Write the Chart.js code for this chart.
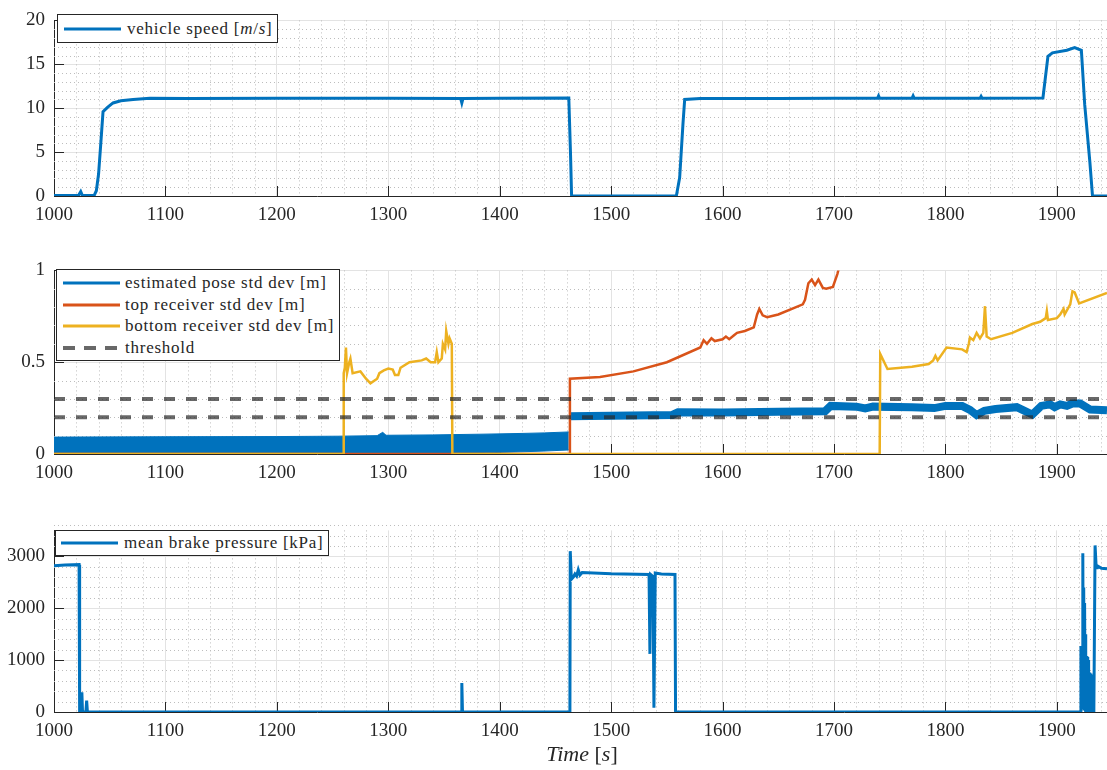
<!DOCTYPE html>
<html>
<head>
<meta charset="utf-8">
<script src="https://cdn.jsdelivr.net/npm/chart.js@4.4.0/dist/chart.umd.min.js"></script>
<style>
  body { margin: 0; background: #fff; width: 1107px; height: 770px; position: relative; overflow: hidden;
         font-family: 'Liberation Serif', serif; color: #262626; }
  canvas { position: absolute; left: 0; }
  .legend { position: absolute; background: #fff; border: 1px solid #262626; box-sizing: border-box;
            font-size: 17px; letter-spacing: 0.75px; }
  .legend .row { position: absolute; left: 0; height: 22px; width: 100%; }
  .legend svg { position: absolute; top: 0; }
  .legend span { position: absolute; top: 0; line-height: 22px; white-space: nowrap; }
  #xlabel { position: absolute; left: 482px; width: 200px; top: 743px; text-align: center;
            font-size: 22px; line-height: 22px; }
</style>
</head>
<body>
<canvas id="speedChart" width="1107" height="240" style="top:0px"></canvas>
<canvas id="stdChart" width="1107" height="240" style="top:250px"></canvas>
<canvas id="brakeChart" width="1107" height="240" style="top:510px"></canvas>

<div class="legend" style="left:57px; top:14px; width:221px; height:29px;">
  <div class="row" style="top:3px">
    <svg width="57" height="22" style="left:6px"><line x1="0" y1="11" x2="57" y2="11" stroke="#0072BD" stroke-width="3"/></svg>
    <span style="left:69px">vehicle speed [<i>m</i>/<i>s</i>]</span>
  </div>
</div>

<div class="legend" style="left:56px; top:269px; width:284px; height:92px;">
  <div class="row" style="top:2px">
    <svg width="57" height="22" style="left:6px"><line x1="0" y1="11" x2="57" y2="11" stroke="#0072BD" stroke-width="3"/></svg>
    <span style="left:68px">estimated pose std dev [m]</span>
  </div>
  <div class="row" style="top:23.5px">
    <svg width="57" height="22" style="left:6px"><line x1="0" y1="11" x2="57" y2="11" stroke="#D95319" stroke-width="3"/></svg>
    <span style="left:68px">top receiver std dev [m]</span>
  </div>
  <div class="row" style="top:45px">
    <svg width="57" height="22" style="left:6px"><line x1="0" y1="11" x2="57" y2="11" stroke="#EDB120" stroke-width="3"/></svg>
    <span style="left:68px">bottom receiver std dev [m]</span>
  </div>
  <div class="row" style="top:66.5px">
    <svg width="57" height="22" style="left:6px"><line x1="0" y1="11" x2="57" y2="11" stroke="rgba(40,40,40,0.7)" stroke-width="4" stroke-dasharray="12 9"/></svg>
    <span style="left:68px">threshold</span>
  </div>
</div>

<div class="legend" style="left:55px; top:530px; width:274px; height:26px;">
  <div class="row" style="top:1px">
    <svg width="57" height="22" style="left:5px"><line x1="0" y1="11" x2="57" y2="11" stroke="#0072BD" stroke-width="3"/></svg>
    <span style="left:68px">mean brake pressure [kPa]</span>
  </div>
</div>

<div id="xlabel"><i>Time</i> [<i>s</i>]</div>

<script>
// time window shared by all three panels
const tStart = 1000;
const tEnd = 1945;
const timeTicks = [1000, 1100, 1200, 1300, 1400, 1500, 1600, 1700, 1800, 1900];
const speedTicks = [0, 5, 10, 15, 20];
const stdTicks = [0, 0.5, 1];
const brakeTicks = [0, 1000, 2000, 3000];

// vehicle speed [m/s] as [time, value]
const speed = [
  [1000, 0.05], [1022, 0.05], [1024, 0.5], [1025.5, 0.05], [1036, 0.05], [1038, 0.6],
  [1040, 2.5], [1042, 6], [1044, 9.6], [1048, 10.1], [1053, 10.6], [1060, 10.85],
  [1071, 11.0], [1086, 11.12], [1120, 11.1], [1200, 11.12], [1300, 11.12], [1365, 11.1],
  [1366, 10.6], [1367, 11.1], [1400, 11.12], [1462, 11.15], [1463.5, 5], [1464.5, 0],
  [1558.5, 0], [1561.5, 2.1], [1564.5, 8.3], [1566, 11.0], [1580, 11.1], [1650, 11.1],
  [1700, 11.12], [1739, 11.12], [1740, 11.4], [1741, 11.12], [1770, 11.12], [1771, 11.4],
  [1772, 11.12], [1831, 11.12], [1832, 11.35], [1833, 11.12], [1887.5, 11.16], [1892, 15.9],
  [1896, 16.3], [1909, 16.6], [1916, 16.9], [1922, 16.6], [1925, 10.4], [1926, 9.0],
  [1929.6, 3.9], [1932, 0], [1945, 0]
];

// estimated pose std dev [m]: noisy band [time, low, high] before the jump, then a line
const poseBand = [
  [1000, 0.006, 0.092], [1100, 0.006, 0.094], [1200, 0.006, 0.095], [1255, 0.006, 0.097],
  [1290, 0.006, 0.1], [1295, 0.006, 0.118], [1298, 0.006, 0.102], [1340, 0.006, 0.104],
  [1385, 0.006, 0.108], [1420, 0.012, 0.112], [1440, 0.016, 0.115], [1462, 0.022, 0.12]
];
const pose = [
  [1462.5, 0.205], [1500, 0.208], [1555, 0.213], [1560, 0.228], [1600, 0.226], [1650, 0.23],
  [1692, 0.233], [1697, 0.262], [1720, 0.258], [1728, 0.248], [1735, 0.258], [1770, 0.254],
  [1790, 0.25], [1800, 0.262], [1815, 0.262], [1822, 0.24], [1828, 0.212], [1835, 0.235],
  [1845, 0.245], [1864, 0.255], [1872, 0.232], [1878, 0.215], [1886, 0.262], [1894, 0.27],
  [1898, 0.255], [1903, 0.27], [1909, 0.262], [1914, 0.275], [1921, 0.275], [1930, 0.242],
  [1945, 0.238]
];

// top receiver std dev [m]
const topRx = [
  [1000, 0], [1462.5, 0], [1463, 0.41], [1490, 0.42], [1520, 0.45], [1550, 0.5], [1580, 0.58],
  [1583, 0.62], [1586, 0.6], [1590, 0.63], [1593, 0.615], [1600, 0.625], [1603, 0.64],
  [1606, 0.625], [1610, 0.645], [1613, 0.66], [1620, 0.67], [1628, 0.69], [1631, 0.76],
  [1633, 0.79], [1636, 0.755], [1640, 0.745], [1650, 0.76], [1672, 0.815], [1674, 0.84],
  [1677, 0.93], [1680, 0.95], [1683, 0.92], [1686, 0.95], [1690, 0.905], [1693, 0.9],
  [1699, 0.91], [1703, 0.98], [1706, 1.05]
];

// bottom receiver std dev [m]
const bottomRx = [
  [1000, 0], [1259.5, 0], [1260, 0.44], [1261, 0.47], [1262, 0.58], [1263, 0.44], [1265, 0.5],
  [1266, 0.52], [1268, 0.44], [1275, 0.45], [1280, 0.41], [1284, 0.385], [1290, 0.41],
  [1292, 0.44], [1296, 0.455], [1300, 0.465], [1304, 0.46], [1306, 0.43], [1309, 0.43],
  [1311, 0.47], [1319, 0.5], [1330, 0.51], [1334, 0.52], [1338, 0.5], [1342, 0.5],
  [1343.5, 0.555], [1345, 0.5], [1348, 0.52], [1349, 0.6], [1351, 0.57], [1352, 0.67],
  [1354, 0.6], [1355, 0.63], [1357, 0.6], [1357.5, 0], [1741, 0], [1741.5, 0.545],
  [1748, 0.463], [1770, 0.475], [1785, 0.49], [1789, 0.51], [1791, 0.535], [1793, 0.51],
  [1801, 0.58], [1815, 0.57], [1819, 0.555], [1821, 0.6], [1822, 0.634], [1825, 0.62],
  [1828, 0.66], [1831, 0.63], [1834, 0.66], [1835.5, 0.805], [1837, 0.64], [1841, 0.625],
  [1860, 0.66], [1878, 0.708], [1885, 0.72], [1890, 0.74], [1891, 0.778], [1892, 0.73],
  [1900, 0.74], [1903, 0.76], [1906, 0.79], [1907, 0.76], [1912, 0.815], [1914, 0.886],
  [1916, 0.88], [1920, 0.82], [1945, 0.877]
];

const thresholds = [0.2, 0.3];

// mean brake pressure [kPa]
const brake = [
  [1000, 2820], [1010, 2835], [1022.5, 2840], [1023, 0], [1024.5, 0], [1025, 380], [1025.6, 0],
  [1028.6, 0], [1029.3, 220], [1030, 0], [1365.5, 0], [1366, 560], [1366.6, 0], [1463, 0],
  [1463.3, 3100], [1464.3, 2560], [1466, 2600], [1467.5, 2660], [1469, 2620], [1470.5, 2740],
  [1472, 2640], [1474, 2690], [1500, 2665], [1534, 2650], [1534.8, 1120], [1535.4, 2650],
  [1537, 2620], [1537.6, 2390], [1538.4, 80], [1539.6, 2680], [1545, 2660], [1557.3, 2650],
  [1557.8, 0], [1921, 0], [1921.6, 1270], [1922.0, 80], [1922.4, 1200], [1922.8, 300],
  [1923.3, 3060], [1923.7, 200], [1924.1, 2400], [1924.5, 60], [1924.9, 2100], [1925.3, 100],
  [1925.7, 1500], [1926.1, 0], [1926.5, 1080], [1926.9, 0], [1927.3, 1060], [1927.7, 50],
  [1928.1, 1000], [1928.5, 0], [1928.9, 760], [1929.3, 0], [1929.7, 740], [1930.1, 0],
  [1930.5, 740], [1930.9, 0], [1931.3, 720], [1931.7, 0], [1933.2, 0], [1934.3, 3210],
  [1935.3, 2780], [1936, 2820], [1940, 2770], [1945, 2760]
];

const blue = '#0072BD';
const orange = '#D95319';
const yellow = '#EDB120';
const dashGray = 'rgba(40,40,40,0.7)';
const axisColor = '#262626';

Chart.defaults.font.family = "'Liberation Serif'";
Chart.defaults.font.size = 19;
Chart.defaults.color = axisColor;

function pts(rows, col = 1) {
  return rows.map(r => ({ x: r[0], y: r[col] }));
}

function line(data, color, width, order, extra = {}) {
  return Object.assign({
    data: data, borderColor: color, backgroundColor: color, borderWidth: width,
    pointRadius: 0, tension: 0, fill: false, order: order
  }, extra);
}

// dotted minor grid and inward tick marks, drawn under the data
const minorGrid = {
  id: 'minorGrid',
  beforeDatasetsDraw(chart, args, opts) {
    const { ctx, chartArea: a, scales: { x, y } } = chart;
    ctx.save();
    ctx.lineWidth = 1;
    ctx.strokeStyle = '#bdbdbd';
    ctx.setLineDash([1, 3]);
    const nx = Math.round((x.max - x.min) / opts.xStep);
    for (let i = 1; i <= nx; i++) {
      if (i % opts.xEvery === 0) continue;
      const px = Math.round(x.getPixelForValue(x.min + i * opts.xStep)) + 0.5;
      ctx.beginPath(); ctx.moveTo(px, a.top); ctx.lineTo(px, a.bottom); ctx.stroke();
    }
    const ny = Math.round((y.max - y.min) / opts.yStep);
    for (let i = 1; i <= ny; i++) {
      if (i % opts.yEvery === 0) continue;
      const py = Math.round(y.getPixelForValue(y.min + i * opts.yStep)) + 0.5;
      ctx.beginPath(); ctx.moveTo(a.left, py); ctx.lineTo(a.right, py); ctx.stroke();
    }
    ctx.setLineDash([]);
    ctx.strokeStyle = axisColor;
    x.ticks.forEach(t => {
      const px = Math.round(x.getPixelForValue(t.value)) + 0.5;
      ctx.beginPath(); ctx.moveTo(px, a.bottom); ctx.lineTo(px, a.bottom - 10); ctx.stroke();
    });
    y.ticks.forEach(t => {
      const py = Math.round(y.getPixelForValue(t.value)) + 0.5;
      ctx.beginPath(); ctx.moveTo(a.left, py); ctx.lineTo(a.left + 10, py); ctx.stroke();
    });
    ctx.restore();
  }
};

function makeChart(id, datasets, yCfg, padTop, xHeight) {
  const tickFont = { family: "'Liberation Serif'", size: 19 };
  return new Chart(document.getElementById(id), {
    type: 'line',
    data: { datasets: datasets },
    options: {
      responsive: false,
      animation: false,
      devicePixelRatio: 1,
      layout: { padding: { top: padTop, left: 0, right: 0, bottom: 0 } },
      plugins: {
        legend: { display: false },
        tooltip: { enabled: false },
        minorGrid: { xStep: 20, xEvery: 5, yStep: yCfg.minor, yEvery: yCfg.every }
      },
      scales: {
        x: {
          type: 'linear', min: tStart, max: tEnd,
          afterBuildTicks: s => { s.ticks = timeTicks.map(v => ({ value: v })); },
          ticks: { autoSkip: false, maxRotation: 0, padding: 8, font: tickFont, color: axisColor,
                   callback: v => String(v) },
          grid: { color: '#e3e3e3', drawTicks: false },
          border: { color: axisColor },
          afterFit: s => { s.height = xHeight; }
        },
        y: {
          min: yCfg.min, max: yCfg.max,
          afterBuildTicks: s => { s.ticks = yCfg.ticks.map(v => ({ value: v })); },
          ticks: { padding: 9, font: tickFont, color: axisColor, callback: v => String(v) },
          grid: { color: '#e3e3e3', drawTicks: false },
          border: { color: axisColor },
          afterFit: s => { s.width = 54; }
        }
      }
    },
    plugins: [minorGrid]
  });
}

function drawAll() {
  makeChart('speedChart', [
    line(pts(speed), blue, 3, 1)
  ], { min: 0, max: 20, ticks: speedTicks, minor: 1, every: 5 }, 12, 44);

  makeChart('stdChart', [
    line([{ x: tStart, y: thresholds[0] }, { x: tEnd, y: thresholds[0] }],
         dashGray, 4, 0, { borderDash: [11, 11] }),
    line([{ x: tStart, y: thresholds[1] }, { x: tEnd, y: thresholds[1] }],
         dashGray, 4, 0, { borderDash: [11, 11] }),
    line(pts(bottomRx), yellow, 2.5, 1),
    line(pts(topRx), orange, 2.5, 2),
    line(pts(poseBand, 1), blue, 1, 3),
    line(pts(poseBand, 2), blue, 1, 3, { fill: '-1' }),
    line(pts(pose), blue, 8, 3)
  ], { min: 0, max: 1, ticks: stdTicks, minor: 0.1, every: 5 }, 19, 36);

  makeChart('brakeChart', [
    line(pts(brake), blue, 3, 1)
  ], { min: 0, max: 3500, ticks: brakeTicks, minor: 200, every: 5 }, 17, 38);
}

// wait for the serif face so the canvas tick labels use it
document.fonts.load("19px 'Liberation Serif'").then(drawAll, drawAll);
</script>
</body>
</html>
